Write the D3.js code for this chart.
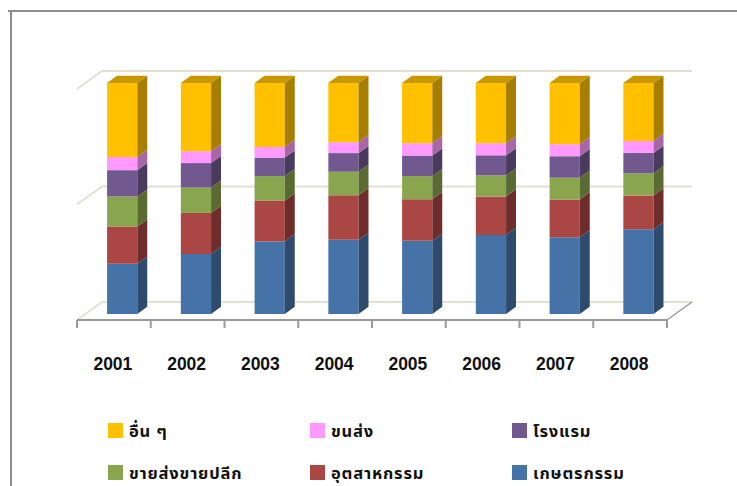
<!DOCTYPE html>
<html><head><meta charset="utf-8">
<script src="https://cdn.jsdelivr.net/npm/d3@7/dist/d3.min.js"></script>
<style>body{margin:0;background:#fff}svg{display:block}</style>
</head><body>
<svg id="c" width="737" height="486"></svg>
<script>
// ---- data (percent shares) ----
const years = ["2001","2002","2003","2004","2005","2006","2007","2008"];
const seriesNames = ["เกษตรกรรม","อุตสาหกรรม","ขายส่งขายปลีก","โรงแรม","ขนส่ง","อื่น ๆ"];
const agriculture = [21.7, 26.0, 31.4, 32.2, 31.7, 34.2, 33.2, 36.7];
const industry    = [16.1, 17.8, 17.7, 19.3, 18.0, 16.7, 16.4, 14.7];
const trade       = [13.0, 11.0, 10.6, 10.2, 10.0,  9.1,  9.4,  9.6];
const hotel       = [11.4, 10.6,  8.0,  8.1,  8.9,  8.7,  9.3,  8.8];
const transport   = [ 5.7,  5.1,  4.6,  4.7,  5.3,  5.2,  5.2,  5.2];
const others      = [32.0, 29.6, 27.7, 25.7, 26.1, 26.1, 26.5, 25.1];
const gridTicks = [0, 0.5, 1];
const legendOrder = ["อื่น ๆ","ขนส่ง","โรงแรม","ขายส่งขายปลีก","อุตสาหกรรม","เกษตรกรรม"];

const colors = {
  "เกษตรกรรม":   {front:"#4572a7", side:"#2e4a6d", top:"#3a6190"},
  "อุตสาหกรรม":  {front:"#aa4643", side:"#6e2d2b", top:"#8f3a38"},
  "ขายส่งขายปลีก":{front:"#89a54e", side:"#596b33", top:"#738b41"},
  "โรงแรม":      {front:"#71588f", side:"#4a3a5d", top:"#5f4a78"},
  "ขนส่ง":       {front:"#ff99ff", side:"#a866a8", top:"#d980d9"},
  "อื่น ๆ":       {front:"#ffc000", side:"#a87e00", top:"#c99700"}
};

const valuesBySeries = [agriculture, industry, trade, hotel, transport, others];
const table = years.map((y,i)=>{
  const o = {year:y};
  seriesNames.forEach((s,k)=>o[s]=valuesBySeries[k][i]);
  return o;
});
const stacked = d3.stack().keys(seriesNames).offset(d3.stackOffsetExpand)(table);

const svg = d3.select("#c");

// frame
svg.append("line").attr("x1",8).attr("x2",737).attr("y1",11).attr("y2",11).attr("stroke","#8e8e8e").attr("stroke-width",2);
svg.append("line").attr("x1",11).attr("x2",11).attr("y1",10).attr("y2",486).attr("stroke","#8e8e8e").attr("stroke-width",2);

// scales (front plane = depth 0)
const x = d3.scaleBand().domain(years).range([77, 667]).paddingInner(0.59).paddingOuter(0.295);
const y = d3.scaleLinear().domain([0,1]).range([320, 89]);
const DX = 25, DY = -18; // full depth offset
const P = (px, v, d) => [px + DX*d, y(v) + DY*d];
const line = d3.line();

// back wall gridlines + side wall diagonals
gridTicks.forEach(t=>{
  const a = P(77, t, 1), b = P(667, t, 1);
  svg.append("path").attr("d", line([a,b])).attr("stroke","#e2dfd3").attr("stroke-width",2).attr("fill","none");
  svg.append("path").attr("d", line([P(77,t,0), P(77,t,1)])).attr("stroke","#e2dfd3").attr("stroke-width",2).attr("fill","none");
});
// right floor edge
svg.append("path").attr("d", line([P(667,0,0), P(667,0,1)])).attr("stroke","#9a9a9a").attr("stroke-width",1.5).attr("fill","none");

// front axis
svg.append("path").attr("d", line([P(77,0,0), P(667,0,0)])).attr("stroke","#9a9a9a").attr("stroke-width",2).attr("fill","none");
const tickXs = years.map(yr=>x(yr) - x.step()*x.paddingInner()/2).concat([667]);
tickXs.forEach(tx=>{
  svg.append("line").attr("x1",tx).attr("x2",tx).attr("y1",320).attr("y2",328).attr("stroke","#9a9a9a").attr("stroke-width",2);
});

// bars
const d0 = 1/3, d1 = 0.73;
const g = svg.append("g");
years.forEach((yr,i)=>{
  const xl = x(yr), xr = x(yr) + x.bandwidth();
  stacked.forEach((layer,k)=>{
    const [v0, v1] = layer[i];
    const c = colors[layer.key];
    g.append("path").attr("d", line([P(xl,v0,d0),P(xr,v0,d0),P(xr,v1,d0),P(xl,v1,d0)])+"Z").attr("fill",c.front);
    g.append("path").attr("d", line([P(xr,v0,d0),P(xr,v0,d1),P(xr,v1,d1),P(xr,v1,d0)])+"Z").attr("fill",c.side);
    if (k === stacked.length-1) {
      g.append("path").attr("d", line([P(xl,v1,d0),P(xr,v1,d0),P(xr,v1,d1),P(xl,v1,d1)])+"Z").attr("fill",c.top);
    }
  });
});

// category labels
svg.append("g").selectAll("text").data(years).join("text")
  .attr("x", d=>x(d)+x.bandwidth()/2 - 1).attr("y", 370)
  .attr("text-anchor","middle")
  .attr("font-family","'Liberation Sans', Arial, sans-serif").attr("font-weight","bold").attr("font-size",17.5)
  .attr("fill","#111").text(d=>d);

// legend
const legX = [108, 310, 512], legY = [423, 465];
legendOrder.forEach((name,i)=>{
  const col = i%3, row = Math.floor(i/3);
  const gg = svg.append("g").attr("transform",`translate(${legX[col]},${legY[row]})`);
  gg.append("rect").attr("width",15).attr("height",15).attr("fill",colors[name].front);
  gg.append("text").attr("x",21).attr("y",14)
    .attr("font-family","Tahoma, 'Noto Sans Thai', Loma, Garuda, 'DejaVu Sans', sans-serif")
    .attr("font-weight","bold").attr("font-size",16.5).attr("letter-spacing",0.8)
    .attr("fill","#111").text(name);
});
</script>
</body></html>
